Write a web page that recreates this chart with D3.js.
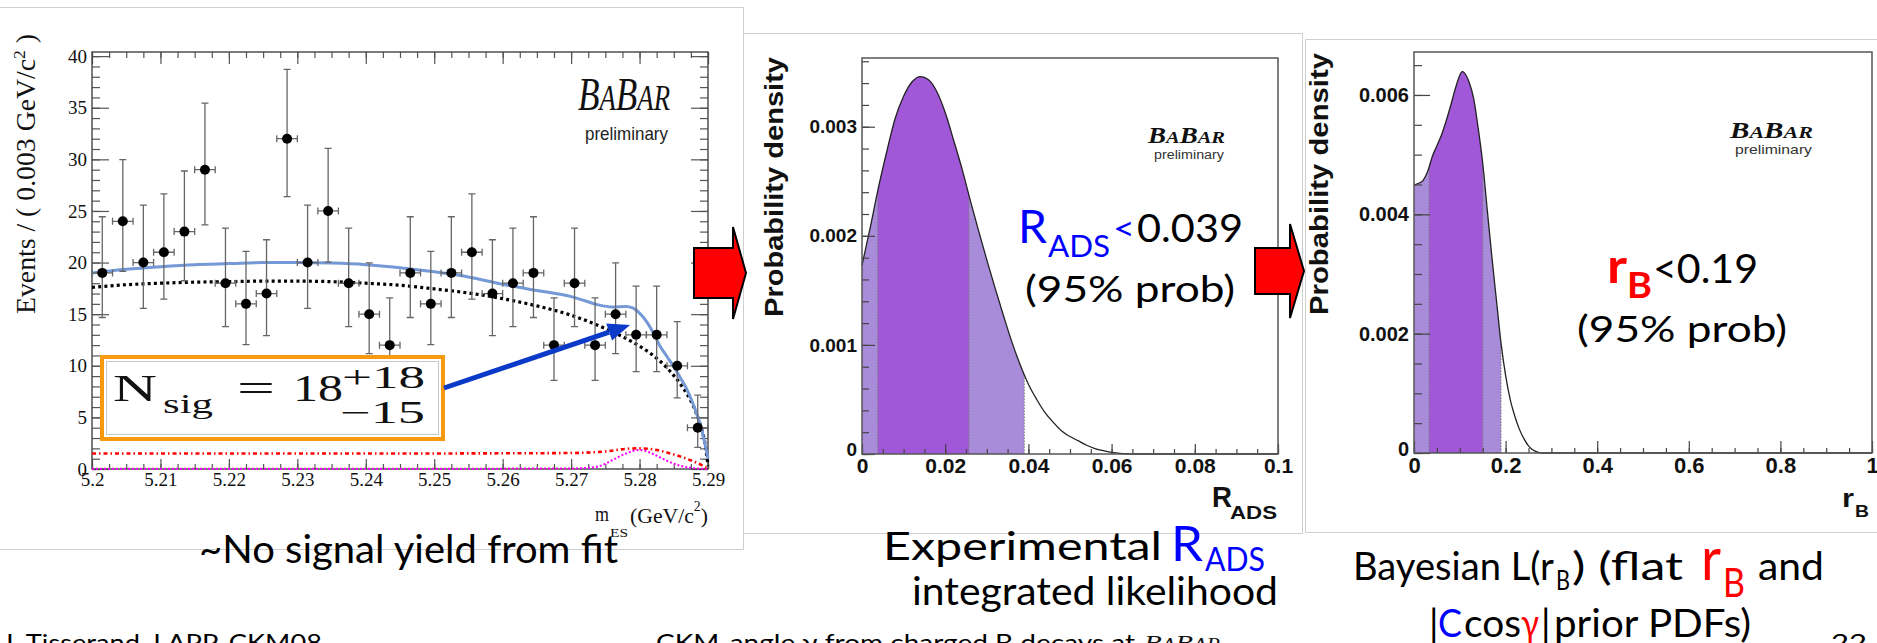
<!DOCTYPE html>
<html>
<head>
<meta charset="utf-8">
<script src="https://cdn.jsdelivr.net/npm/d3@7"></script>
<style>
  html, body { margin: 0; padding: 0; background: #fff; }
  svg { display: block; }
</style>
</head>
<body>
<svg id="slide" width="1877" height="643"></svg>
<script>
// ---------- m_ES fit: data points (bins of 0.003 GeV/c^2) ----------
const mesBinCenters = [5.2015, 5.2045, 5.2075, 5.2105, 5.2135, 5.2165, 5.2195, 5.2225, 5.2255, 5.2285,
                       5.2315, 5.2345, 5.2375, 5.2405, 5.2435, 5.2465, 5.2495, 5.2525, 5.2555, 5.2585,
                       5.2615, 5.2645, 5.2675, 5.2705, 5.2735, 5.2765, 5.2795, 5.2825, 5.2855, 5.2885];
const mesCounts  = [19, 24, 20, 21, 23, 29, 18, 16, 17, 32, 20, 25, 18, 15, 12, 19, 16, 19, 21, 17,
                    18, 19, 12, 18, 12, 15, 13, 13, 10, 4];
const mesErrLow  = [4.32, 4.86, 4.43, 4.54, 4.76, 5.35, 4.20, 3.95, 4.08, 5.62, 4.43, 4.96, 4.20, 3.83, 3.41,
                    4.32, 3.95, 4.32, 4.54, 4.08, 4.20, 4.32, 3.41, 4.20, 3.41, 3.83, 3.56, 3.56, 3.10, 1.91];
const mesErrHigh = [5.44, 5.97, 5.56, 5.66, 5.87, 6.45, 5.33, 5.09, 5.21, 6.72, 5.56, 6.07, 5.33, 4.97, 4.57,
                    5.44, 5.09, 5.44, 5.66, 5.21, 5.33, 5.44, 4.57, 5.33, 4.57, 4.97, 4.71, 4.71, 4.28, 3.16];
const mesBinHalfWidth = 0.0015;

// ---------- m_ES fit: projected PDF components ----------
const totalFitX = [5.200, 5.205, 5.210, 5.215, 5.220, 5.225, 5.230, 5.235, 5.240, 5.245, 5.250, 5.255, 5.260,
                   5.265, 5.270, 5.272, 5.274, 5.276, 5.278, 5.279, 5.280, 5.281, 5.282, 5.283, 5.284, 5.285,
                   5.286, 5.287, 5.288, 5.289, 5.290];
const totalFitY = [19.0, 19.35, 19.6, 19.8, 19.9, 20.0, 20.0, 19.95, 19.8, 19.5, 19.1, 18.6, 17.9,
                   17.3, 16.7, 16.3, 15.9, 15.7, 15.75, 15.6, 15.1, 14.3, 13.2, 11.9, 10.9, 9.9,
                   8.8, 7.6, 6.0, 4.0, 1.0];
const combBkgX = [5.200, 5.205, 5.210, 5.215, 5.220, 5.225, 5.230, 5.235, 5.240, 5.245, 5.250, 5.255, 5.260,
                  5.265, 5.270, 5.275, 5.280, 5.282, 5.284, 5.286, 5.287, 5.288, 5.289, 5.2895, 5.290];
const combBkgY = [17.6, 17.85, 18.0, 18.1, 18.15, 18.2, 18.2, 18.15, 18.0, 17.8, 17.45, 17.05, 16.5,
                  15.8, 14.9, 13.6, 11.9, 11.0, 9.8, 8.2, 7.2, 5.9, 4.0, 2.7, 0.3];
const peakBkgX = [5.200, 5.220, 5.240, 5.260, 5.270, 5.275, 5.278, 5.280, 5.282, 5.284, 5.286, 5.288, 5.289, 5.290];
const peakBkgY = [1.5, 1.5, 1.5, 1.52, 1.55, 1.7, 1.95, 2.0, 1.9, 1.6, 1.2, 0.7, 0.4, 0.0];
const signalX = [5.200, 5.250, 5.270, 5.272, 5.274, 5.276, 5.278, 5.280, 5.282, 5.284, 5.286, 5.288, 5.290];
const signalY = [0.02, 0.03, 0.05, 0.1, 0.25, 0.85, 1.5, 1.85, 1.45, 0.8, 0.3, 0.08, 0.0];

const mesTickValues = [5.2, 5.21, 5.22, 5.23, 5.24, 5.25, 5.26, 5.27, 5.28, 5.29];
const mesTickLabels = ["5.2", "5.21", "5.22", "5.23", "5.24", "5.25", "5.26", "5.27", "5.28", "5.29"];
const eventTickValues = [0, 5, 10, 15, 20, 25, 30, 35, 40];

// ---------- R_ADS likelihood ----------
const radsX   = [0, 0.002, 0.004, 0.006, 0.008, 0.010, 0.012, 0.014, 0.016, 0.018, 0.020, 0.022, 0.024,
                 0.026, 0.028, 0.030, 0.032, 0.034, 0.036, 0.038, 0.040, 0.042, 0.044, 0.046, 0.048,
                 0.050, 0.052, 0.054, 0.056, 0.058, 0.060, 0.062, 0.064, 0.066, 0.080, 0.100];
const radsPdf = [1.73, 2.08, 2.45, 2.78, 3.08, 3.28, 3.41, 3.46, 3.43, 3.32, 3.13, 2.88, 2.62,
                 2.33, 2.05, 1.78, 1.52, 1.27, 1.03, 0.82, 0.64, 0.50, 0.38, 0.29, 0.21,
                 0.16, 0.12, 0.08, 0.05, 0.03, 0.015, 0.006, 0.002, 0, 0, 0].map(v => v * 1e-3);
const radsBand68 = [0.0038, 0.0257];
const radsBand95 = [0, 0.039];
const radsXTicks = [0, 0.02, 0.04, 0.06, 0.08, 0.1];
const radsYTicks = [0, 0.001, 0.002, 0.003];

// ---------- r_B likelihood ----------
const rbX   = [0, 0.01, 0.02, 0.03, 0.04, 0.05, 0.06, 0.07, 0.08, 0.09, 0.10, 0.105, 0.11, 0.12, 0.13, 0.14,
               0.15, 0.16, 0.17, 0.18, 0.19, 0.20, 0.21, 0.22, 0.23, 0.24, 0.25, 0.26, 0.27, 0.28, 0.30, 0.6, 1.0];
const rbPdf = [4.49, 4.52, 4.57, 4.72, 4.97, 5.15, 5.33, 5.56, 5.82, 6.10, 6.33, 6.39, 6.37, 6.22, 5.95, 5.45,
               4.86, 4.07, 3.29, 2.56, 1.84, 1.30, 0.90, 0.62, 0.40, 0.24, 0.12, 0.05, 0.015, 0, 0, 0, 0].map(v => v * 1e-3);
const rbBand68 = [0.033, 0.150];
const rbBand95 = [0, 0.19];
const rbXTicks = [0, 0.2, 0.4, 0.6, 0.8, 1];
const rbYTicks = [0, 0.002, 0.004, 0.006];

// ---------- fonts / colours ----------
const SLIDE = "Lato, 'Open Sans', sans-serif";
const SERIF = "'Liberation Serif', 'Times New Roman', serif";
const SANS  = "'Liberation Sans', Arial, sans-serif";
const DARK_VIOLET = "#a158d8";
const LIGHT_VIOLET = "#a88bd9";

const svg = d3.select("#slide");
svg.append("rect").attr("width", 1877).attr("height", 643).attr("fill", "#fff");

// placed text helper
function label(g, s, o) {
  const t = g.append("text")
    .attr("x", o.x).attr("y", o.y)
    .style("font-family", o.font || SLIDE)
    .style("font-size", (o.size || 38) + "px")
    .style("font-weight", o.weight || 400)
    .style("font-style", o.italic ? "italic" : "normal")
    .attr("fill", o.color || "#000")
    .text(s);
  if (o.w) t.attr("textLength", o.w).attr("lengthAdjust", "spacingAndGlyphs");
  return t;
}

function babarLogo(g, x, y, big, w, bold) {
  const t = g.append("text").attr("x", x).attr("y", y)
    .style("font-family", SERIF).style("font-style", "italic")
    .style("font-weight", bold ? 700 : 400).attr("fill", "#111");
  [["B", 1], ["A", 0.76], ["B", 1], ["AR", 0.76]].forEach(([s, k]) =>
    t.append("tspan").style("font-size", (big * k) + "px").text(s));
  t.attr("textLength", w).attr("lengthAdjust", "spacingAndGlyphs");
}

// ---------- panel outlines ----------
const frames = svg.append("g").attr("fill", "none").attr("stroke", "#cfcfcf").attr("stroke-width", 1);
frames.append("path").attr("d", "M0,7.5H743.5V549.5H0");
frames.append("rect").attr("x", 743.5).attr("y", 33.5).attr("width", 559).attr("height", 500);
frames.append("path").attr("d", "M1877,39.5H1305.5V532.5H1877");

// =================== m_ES plot ===================
const gL = svg.append("g");
const xMes = d3.scaleLinear().domain([5.2, 5.29]).range([92, 708]);
const yEv = d3.scaleLinear().domain([0, 40.4]).range([469, 52]);

function styleTicks(sel, color) {
  sel.select(".domain").remove();
  sel.selectAll(".tick line").attr("stroke", color || "#555").attr("stroke-width", 1.2);
}

const mesMinor = d3.range(0, 37).map(i => 5.2 + i * 0.0025);
const evMinor = d3.range(0, 41);

gL.append("g").attr("transform", "translate(0,469)")
  .call(d3.axisBottom(xMes).tickValues(mesMinor).tickSize(-5).tickFormat(""))
  .call(styleTicks);
gL.append("g").attr("transform", "translate(0,469)")
  .call(d3.axisBottom(xMes).tickValues(mesTickValues).tickSize(-10).tickPadding(3)
        .tickFormat((d, i) => mesTickLabels[i]))
  .call(styleTicks)
  .call(g => g.selectAll("text").style("font-family", SERIF).style("font-size", "19px").attr("fill", "#111"));
gL.append("g").attr("transform", "translate(0,52)")
  .call(d3.axisTop(xMes).tickValues(mesMinor).tickSize(-6).tickFormat(""))
  .call(styleTicks);
gL.append("g").attr("transform", "translate(0,52)")
  .call(d3.axisTop(xMes).tickValues(mesTickValues).tickSize(-12).tickFormat(""))
  .call(styleTicks);
gL.append("g").attr("transform", "translate(92,0)")
  .call(d3.axisLeft(yEv).tickValues(evMinor).tickSize(-8).tickFormat(""))
  .call(styleTicks);
gL.append("g").attr("transform", "translate(92,0)")
  .call(d3.axisLeft(yEv).tickValues(eventTickValues).tickSize(-17).tickPadding(5).tickFormat(d3.format("d")))
  .call(styleTicks)
  .call(g => g.selectAll("text").style("font-family", SERIF).style("font-size", "19px").attr("fill", "#111"));
gL.append("g").attr("transform", "translate(708,0)")
  .call(d3.axisRight(yEv).tickValues(evMinor).tickSize(-8).tickFormat(""))
  .call(styleTicks);
gL.append("g").attr("transform", "translate(708,0)")
  .call(d3.axisRight(yEv).tickValues(eventTickValues).tickSize(-17).tickFormat(""))
  .call(styleTicks);

gL.append("rect").attr("x", 92).attr("y", 52).attr("width", 616).attr("height", 417)
  .attr("fill", "none").attr("stroke", "#444").attr("stroke-width", 1.4);

// axis titles
const yTitle = gL.append("text").attr("transform", "translate(35,314) rotate(-90)")
  .style("font-family", SERIF).style("font-size", "27px").attr("fill", "#111");
yTitle.append("tspan").text("Events / ( 0.003 GeV/c");
yTitle.append("tspan").attr("dy", -10).style("font-size", "17px").text("2");
yTitle.append("tspan").attr("dy", 10).text(" )");
yTitle.attr("textLength", 280).attr("lengthAdjust", "spacingAndGlyphs");

label(gL, "m", { x: 595, y: 521, size: 22, font: SERIF, w: 14, color: "#111" });
label(gL, "ES", { x: 610, y: 537, size: 13, font: SERIF, w: 18, color: "#111" });
const xTitle = gL.append("text").attr("x", 630).attr("y", 523)
  .style("font-family", SERIF).style("font-size", "22px").attr("fill", "#111");
xTitle.append("tspan").text("(GeV/c");
xTitle.append("tspan").attr("dy", -12).style("font-size", "14px").text("2");
xTitle.append("tspan").attr("dy", 12).text(")");
xTitle.attr("textLength", 78).attr("lengthAdjust", "spacingAndGlyphs");

// fit components
const mesLine = d3.line().x(d => xMes(d[0])).y(d => yEv(d[1])).curve(d3.curveMonotoneX);
gL.append("path").datum(d3.zip(signalX, signalY)).attr("d", mesLine)
  .attr("fill", "none").attr("stroke", "#ff00ff").attr("stroke-width", 2).attr("stroke-dasharray", "2,2");
gL.append("path").datum(d3.zip(peakBkgX, peakBkgY)).attr("d", mesLine)
  .attr("fill", "none").attr("stroke", "#ff0000").attr("stroke-width", 2.6).attr("stroke-dasharray", "4,3,1.5,3");
gL.append("path").datum(d3.zip(combBkgX, combBkgY)).attr("d", mesLine)
  .attr("fill", "none").attr("stroke", "#000").attr("stroke-width", 3.2).attr("stroke-dasharray", "3,3.2");
gL.append("path").datum(d3.zip(totalFitX, totalFitY)).attr("d", mesLine)
  .attr("fill", "none").attr("stroke", "#7499d6").attr("stroke-width", 3);

// data points with error bars
const pts = gL.append("g");
mesBinCenters.forEach((m, i) => {
  const c = mesCounts[i];
  const cx = xMes(m), cy = yEv(c);
  const yTop = yEv(c + mesErrHigh[i]), yBot = yEv(c - mesErrLow[i]);
  const xl = xMes(m - mesBinHalfWidth), xr = xMes(m + mesBinHalfWidth);
  const p = d3.path();
  p.moveTo(cx, yTop); p.lineTo(cx, yBot);
  p.moveTo(cx - 3.5, yTop); p.lineTo(cx + 3.5, yTop);
  p.moveTo(cx - 3.5, yBot); p.lineTo(cx + 3.5, yBot);
  p.moveTo(xl, cy); p.lineTo(xr, cy);
  p.moveTo(xl, cy - 3.5); p.lineTo(xl, cy + 3.5);
  p.moveTo(xr, cy - 3.5); p.lineTo(xr, cy + 3.5);
  pts.append("path").attr("d", p.toString()).attr("fill", "none").attr("stroke", "#666").attr("stroke-width", 1.3);
  pts.append("circle").attr("cx", cx).attr("cy", cy).attr("r", 5).attr("fill", "#000");
});

// logo
babarLogo(gL, 578, 110, 46, 92, false);
label(gL, "preliminary", { x: 585, y: 140, size: 19, font: SANS, w: 83, color: "#222" });

// signal-yield box with arrow
gL.append("rect").attr("x", 102).attr("y", 357).attr("width", 341).attr("height", 82)
  .attr("fill", "#fff").attr("stroke", "#f89a10").attr("stroke-width", 4);
gL.append("rect").attr("x", 106.5).attr("y", 361.5).attr("width", 332).attr("height", 73)
  .attr("fill", "none").attr("stroke", "#bbb").attr("stroke-width", 0.8);
label(gL, "N", { x: 113, y: 401, size: 38, font: SERIF, w: 44, color: "#111" });
label(gL, "sig", { x: 163, y: 413, size: 27, font: SERIF, w: 50, color: "#111" });
label(gL, "=", { x: 237, y: 401, size: 38, font: SERIF, w: 38, color: "#111" });
label(gL, "18", { x: 293, y: 401, size: 38, font: SERIF, w: 50, color: "#111" });
label(gL, "+18", { x: 342, y: 388, size: 31, font: SERIF, w: 83, color: "#111" });
label(gL, "\u221215", { x: 340, y: 423, size: 31, font: SERIF, w: 85, color: "#111" });

(function arrow() {
  const x0 = 444, y0 = 388, x1 = 630, y1 = 325;
  const ang = Math.atan2(y1 - y0, x1 - x0), len = 22, half = 9;
  const bx = x1 - len * Math.cos(ang), by = y1 - len * Math.sin(ang);
  gL.append("line").attr("x1", x0).attr("y1", y0).attr("x2", bx).attr("y2", by)
    .attr("stroke", "#0b3ac8").attr("stroke-width", 5);
  const nx = -Math.sin(ang), ny = Math.cos(ang);
  gL.append("path")
    .attr("d", `M${x1},${y1}L${bx + nx * half},${by + ny * half}L${bx - nx * half},${by - ny * half}Z`)
    .attr("fill", "#0b3ac8");
})();

// =================== likelihood plots ===================
function pdfPanel(cfg) {
  const g = svg.append("g");
  const x = d3.scaleLinear().domain(cfg.xDomain).range(cfg.xRange);
  const y = d3.scaleLinear().domain(cfg.yDomain).range(cfg.yRange);
  const data = d3.zip(cfg.xs, cfg.ys);
  const area = d3.area().x(d => x(d[0])).y0(y(0)).y1(d => y(d[1])).curve(d3.curveMonotoneX);
  const line = d3.line().x(d => x(d[0])).y(d => y(d[1])).curve(d3.curveMonotoneX);

  const id = cfg.id;
  const defs = g.append("defs");
  [["b95", cfg.band95], ["b68", cfg.band68]].forEach(([k, b]) => {
    defs.append("clipPath").attr("id", id + k).append("rect")
      .attr("x", x(b[0])).attr("width", x(b[1]) - x(b[0]))
      .attr("y", cfg.yRange[1] - 20).attr("height", cfg.yRange[0] - cfg.yRange[1] + 20);
  });
  defs.append("clipPath").attr("id", id + "under").append("path").datum(data).attr("d", area);

  g.append("path").datum(data).attr("d", area).attr("fill", LIGHT_VIOLET).attr("clip-path", `url(#${id}b95)`);
  g.append("path").datum(data).attr("d", area).attr("fill", DARK_VIOLET).attr("clip-path", `url(#${id}b68)`);
  const edges = g.append("g").attr("clip-path", `url(#${id}under)`);
  [cfg.band68[0], cfg.band68[1], cfg.band95[1]].forEach(v => {
    edges.append("line").attr("x1", x(v)).attr("x2", x(v)).attr("y1", cfg.yRange[0]).attr("y2", cfg.yRange[1])
      .attr("stroke", "#777").attr("stroke-width", 1).attr("stroke-dasharray", "1.5,1.5");
  });
  g.append("path").datum(data).attr("d", line).attr("fill", "none").attr("stroke", "#222").attr("stroke-width", 1.3);

  // axes
  const [xl, xr] = cfg.xRange, [yb, yt] = cfg.yRange;
  g.append("g").attr("transform", `translate(0,${yb})`)
    .call(d3.axisBottom(x).tickValues(cfg.xMinor).tickSize(-5).tickFormat(""))
    .call(s => styleTicks(s, "#444"));
  g.append("g").attr("transform", `translate(0,${yb})`)
    .call(d3.axisBottom(x).tickValues(cfg.xTicks).tickSize(-cfg.xMajorLen).tickPadding(4).tickFormat(d3.format("~g")))
    .call(s => styleTicks(s, "#444"))
    .call(s => s.selectAll("text").style("font-family", SANS).style("font-weight", 700)
      .style("font-size", cfg.xFont + "px").attr("fill", "#111"));
  g.append("g").attr("transform", `translate(${xl},0)`)
    .call(d3.axisLeft(y).tickValues(cfg.yMinor).tickSize(-cfg.yMinorLen).tickFormat(""))
    .call(s => styleTicks(s, "#444"));
  g.append("g").attr("transform", `translate(${xl},0)`)
    .call(d3.axisLeft(y).tickValues(cfg.yTicks).tickSize(-cfg.yMajorLen).tickPadding(5)
      .tickFormat(d => d === 0 ? "0" : d3.format(".3f")(d)))
    .call(s => styleTicks(s, "#444"))
    .call(s => s.selectAll("text").style("font-family", SANS).style("font-weight", 700)
      .style("font-size", cfg.yFont + "px").attr("fill", "#111"))
    .call(s => s.selectAll(".tick").filter(d => d === 0).select("text").attr("dy", "0.1em"));
  g.append("rect").attr("x", xl).attr("y", yt).attr("width", xr - xl).attr("height", yb - yt)
    .attr("fill", "none").attr("stroke", "#555").attr("stroke-width", 1.5);
  return g;
}

// R_ADS panel
const gM = pdfPanel({
  id: "rads", xs: radsX, ys: radsPdf,
  xDomain: [0, 0.1], xRange: [862, 1278], yDomain: [0, 0.00363], yRange: [454, 58],
  band68: radsBand68, band95: radsBand95,
  xTicks: radsXTicks, xMinor: d3.range(0, 21).map(i => i * 0.005),
  yTicks: radsYTicks, yMinor: d3.range(0, 19).map(i => i * 0.0002),
  xMajorLen: 10, yMajorLen: 13, yMinorLen: 7, xFont: 21, yFont: 19
});
gM.append("text").attr("transform", "translate(783,317) rotate(-90)")
  .style("font-family", SANS).style("font-weight", 700).style("font-size", "25px").attr("fill", "#111")
  .attr("textLength", 260).attr("lengthAdjust", "spacingAndGlyphs").text("Probability density");
label(gM, "R", { x: 1212, y: 507, size: 29, font: SANS, weight: 700, w: 20, color: "#111" });
label(gM, "ADS", { x: 1230, y: 519, size: 18, font: SANS, weight: 700, w: 47, color: "#111" });
babarLogo(gM, 1148, 143, 23, 77, true);
label(gM, "preliminary", { x: 1154, y: 159, size: 12, font: SANS, w: 70, color: "#333" });

label(gM, "R", { x: 1018, y: 243, size: 46, color: "#0000ff", w: 29 });
label(gM, "ADS", { x: 1048, y: 257, size: 30, color: "#0000ff", w: 62 });
label(gM, "<", { x: 1113, y: 240, size: 32, color: "#0000ff", w: 22 });
label(gM, "0.039", { x: 1137, y: 242, size: 38, w: 106 });
label(gM, "(95% prob)", { x: 1025, y: 302, size: 36, w: 210 });

// r_B panel
const gR = pdfPanel({
  id: "rb", xs: rbX, ys: rbPdf,
  xDomain: [0, 1], xRange: [1414, 1872], yDomain: [0, 0.00672], yRange: [453, 52],
  band68: rbBand68, band95: rbBand95,
  xTicks: rbXTicks, xMinor: d3.range(0, 21).map(i => i * 0.05),
  yTicks: rbYTicks, yMinor: d3.range(0, 14).map(i => i * 0.0005),
  xMajorLen: 12, yMajorLen: 16, yMinorLen: 8, xFont: 22, yFont: 20
});
gR.append("text").attr("transform", "translate(1328,315) rotate(-90)")
  .style("font-family", SANS).style("font-weight", 700).style("font-size", "25px").attr("fill", "#111")
  .attr("textLength", 262).attr("lengthAdjust", "spacingAndGlyphs").text("Probability density");
label(gR, "r", { x: 1842, y: 507, size: 25, font: SANS, weight: 700, w: 12, color: "#111" });
label(gR, "B", { x: 1855, y: 517, size: 17, font: SANS, weight: 700, w: 14, color: "#111" });
babarLogo(gR, 1730, 138, 23, 83, true);
label(gR, "preliminary", { x: 1735, y: 154, size: 13, font: SANS, w: 77, color: "#333" });

label(gR, "r", { x: 1607, y: 283, size: 48, weight: 700, color: "#ff0000", w: 20 });
label(gR, "B", { x: 1627, y: 298, size: 36, weight: 700, color: "#ff0000", w: 25 });
label(gR, "<0.19", { x: 1653, y: 283, size: 40, w: 105 });
label(gR, "(95% prob)", { x: 1577, y: 342, size: 36, w: 210 });

// ---------- block arrows between panels ----------
function blockArrow(x0, xh, x1, yc, bh, hh) {
  svg.append("path")
    .attr("d", `M${x0},${yc - bh}H${xh}V${yc - hh}L${x1},${yc}L${xh},${yc + hh}V${yc + bh}H${x0}Z`)
    .attr("fill", "#ff0000").attr("stroke", "#000").attr("stroke-width", 2).attr("stroke-linejoin", "miter");
}
blockArrow(694, 733, 746, 273, 25, 46);
blockArrow(1255, 1290, 1304, 271, 23, 47);

// ---------- captions ----------
const cap = svg.append("g");
label(cap, "~No signal yield from fit", { x: 199, y: 563, size: 38, w: 419 });
label(cap, "Experimental", { x: 883, y: 560, size: 38, w: 279 });
label(cap, "R", { x: 1171, y: 561, size: 48, color: "#0000ff", w: 32 });
label(cap, "ADS", { x: 1205, y: 571, size: 32, color: "#0000ff", w: 60 });
label(cap, "integrated likelihood", { x: 912, y: 605, size: 38, w: 366 });

label(cap, "Bayesian L(r", { x: 1353, y: 580, size: 38, w: 201 });
label(cap, "B", { x: 1556, y: 590, size: 26, w: 14 });
label(cap, ") (flat", { x: 1572, y: 580, size: 38, w: 111 });
label(cap, "r", { x: 1701, y: 580, size: 60, color: "#ff0000", w: 20 });
label(cap, "B", { x: 1723, y: 597, size: 40, color: "#ff0000", w: 22 });
label(cap, "and", { x: 1758, y: 580, size: 38, w: 66 });
label(cap, "|", { x: 1429, y: 637, size: 38 });
label(cap, "C", { x: 1438, y: 637, size: 38, color: "#0000ff", w: 24 });
label(cap, "cos", { x: 1464, y: 637, size: 38, w: 57 });
label(cap, "\u03b3", { x: 1521, y: 637, size: 38, color: "#ff0000", w: 18 });
label(cap, "|", { x: 1541, y: 637, size: 38 });
label(cap, "prior PDFs)", { x: 1554, y: 637, size: 38, w: 197 });

// footer
label(cap, "J. Tisserand, LAPP, CKM08", { x: 2, y: 651, size: 24, w: 320 });
label(cap, "CKM-angle \u03b3 from charged B decays at", { x: 656, y: 651, size: 24, w: 479 });
babarLogo(cap, 1144, 651, 24, 76, false);
label(cap, "22", { x: 1831, y: 651, size: 24, w: 36 });
</script>
</body>
</html>
